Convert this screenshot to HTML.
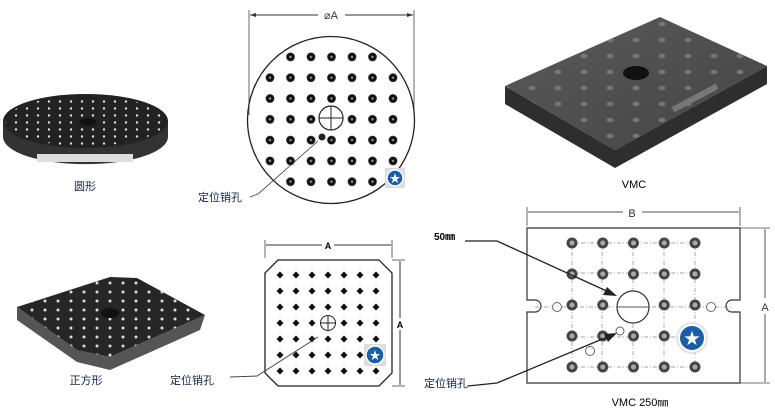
<!DOCTYPE html>
<html><head><meta charset="utf-8"><style>
html,body{margin:0;padding:0;background:#fff;width:775px;height:411px;overflow:hidden}
svg{display:block}
text{font-family:"Liberation Sans","Noto Sans CJK SC",sans-serif}
</style></head><body>
<svg width="775" height="411" viewBox="0 0 775 411" xmlns="http://www.w3.org/2000/svg">
<defs>
<pattern id="pc" x="259.75" y="46.5" width="20.5" height="20.8" patternUnits="userSpaceOnUse">
<circle cx="10.25" cy="10.4" r="4.3" fill="#111"/><circle cx="10.25" cy="10.4" r="1.2" fill="#999"/></pattern>
<pattern id="pd" x="272" y="267" width="16" height="16" patternUnits="userSpaceOnUse">
<path d="M8 4.5 L11.5 8 L8 11.5 L4.5 8Z" fill="#111"/></pattern>
<pattern id="pv" x="556.6" y="227.5" width="30.75" height="31" patternUnits="userSpaceOnUse">
<circle cx="15.4" cy="15.5" r="5.5" fill="#444"/><circle cx="15.4" cy="15.5" r="2.5" fill="#aaa"/></pattern>
<pattern id="pw" x="0" y="0" width="11" height="7" patternUnits="userSpaceOnUse">
<circle cx="5" cy="3.5" r="1.2" fill="#ddd"/></pattern>
<pattern id="pw2" x="0" y="0" width="13" height="9" patternUnits="userSpaceOnUse">
<circle cx="6" cy="4" r="1.5" fill="#ddd"/></pattern>
<pattern id="pw3" x="0" y="0" width="26" height="16" patternUnits="userSpaceOnUse">
<ellipse cx="12" cy="8" rx="3.5" ry="2.2" fill="#777"/></pattern>
<clipPath id="cc"><circle cx="331" cy="120" r="80"/></clipPath>
<clipPath id="cr"><rect x="262" y="48" width="142" height="142"/></clipPath>
<linearGradient id="gv" x1="0" y1="0" x2="1" y2="1"><stop offset="0" stop-color="#5a5a5a"/><stop offset="1" stop-color="#444"/></linearGradient>
</defs>

<!-- round 3D -->
<path d="M3 121 L3 137 A82 27 0 0 0 168 137 L168 121Z" fill="#333"/>
<ellipse cx="85.5" cy="121" rx="82.5" ry="27" fill="#222"/>
<ellipse cx="85.5" cy="121" rx="80" ry="25" fill="url(#pw)"/>
<ellipse cx="88" cy="122" rx="8" ry="4" fill="#111"/>
<rect x="37" y="154" width="96" height="8" fill="#ddd"/>
<text x="85" y="190" font-size="11" text-anchor="middle" fill="#124">圆形</text>

<!-- circle drawing -->
<line x1="249" y1="10" x2="249" y2="115" stroke="#444" stroke-width="0.8"/>
<line x1="414" y1="10" x2="414" y2="115" stroke="#444" stroke-width="0.8"/>
<line x1="250" y1="15" x2="318" y2="15" stroke="#333"/>
<line x1="345" y1="15" x2="413" y2="15" stroke="#333"/>
<path d="M250 15 l6 -2 v4z M413 15 l-6 -2 v4z" fill="#333"/>
<text x="331" y="19" font-size="11" text-anchor="middle" fill="#333">⌀A</text>
<circle cx="331" cy="120" r="83.5" fill="none" stroke="#222" stroke-width="1.3"/>
<g clip-path="url(#cr)"><rect x="248" y="36" width="168" height="168" fill="url(#pc)" clip-path="url(#cc)"/></g>
<circle cx="331" cy="118" r="12" fill="#fff" stroke="#222" stroke-width="1.2"/>
<path d="M319 118 H343 M331 106 V130" stroke="#222"/>
<circle cx="322" cy="137" r="3.5" fill="#222"/>
<polyline points="318,141 258,194 250,197" fill="none" stroke="#333" stroke-width="0.8"/>
<text x="198" y="201" font-size="11" fill="#124">定位销孔</text>
<rect x="385" y="168" width="20" height="20" fill="#ddd"/>
<circle cx="395" cy="178" r="8" fill="#1a5ea8" stroke="#fff" stroke-width="1.5"/>
<text x="395" y="182" font-size="11" text-anchor="middle" fill="#fff">★</text>

<!-- VMC 3D -->
<polygon points="505,86 505,104 615,168 767,84 767,66 615,150" fill="#2e2e2e"/>
<polygon points="505,86 660,17 767,66 615,150" fill="url(#gv)"/>
<polygon points="505,86 660,17 767,66 615,150" fill="url(#pw3)"/>
<ellipse cx="636" cy="73" rx="13" ry="7" fill="#111"/>
<rect x="670" y="95" width="50" height="6" fill="#777" transform="rotate(-28 695 98)"/>
<text x="634" y="188" font-size="11" text-anchor="middle" font-family="Liberation Serif">VMC</text>

<!-- square 3D -->
<polygon points="17,307 17,320 77,362 110,370 200,330 205,315 110,357 77,350" fill="#555"/>
<polygon points="17,307 110,277 137,278 205,315 110,357 77,350" fill="#262626"/>
<polygon points="17,307 110,277 137,278 205,315 110,357 77,350" fill="url(#pw2)"/>
<ellipse cx="110" cy="313" rx="9" ry="5" fill="#111"/>
<text x="86" y="384" font-size="11" text-anchor="middle" fill="#124">正方形</text>

<!-- square drawing -->
<line x1="265" y1="240" x2="265" y2="258" stroke="#444" stroke-width="0.8"/>
<line x1="392" y1="240" x2="392" y2="258" stroke="#444" stroke-width="0.8"/>
<line x1="266" y1="245" x2="322" y2="245" stroke="#333"/><line x1="334" y1="245" x2="391" y2="245" stroke="#333"/>
<text x="328" y="249" font-size="9" text-anchor="middle" font-weight="bold">A</text>
<line x1="392" y1="260" x2="405" y2="260" stroke="#444" stroke-width="0.8"/>
<line x1="392" y1="386" x2="405" y2="386" stroke="#444" stroke-width="0.8"/>
<line x1="400" y1="261" x2="400" y2="318" stroke="#333"/><line x1="400" y1="330" x2="400" y2="385" stroke="#333"/>
<text x="400" y="328" font-size="9" text-anchor="middle" font-weight="bold">A</text>
<polygon points="278,260 379,260 392,273 392,373 379,386 278,386 265,373 265,273" fill="#fff" stroke="#222" stroke-width="1.3"/>
<rect x="272" y="267" width="112" height="112" fill="url(#pd)"/>
<circle cx="328" cy="323" r="7.5" fill="#fff" stroke="#222"/>
<path d="M320 323 H336 M328 315 V331" stroke="#222"/>
<polyline points="318,337 257,376 230,377" fill="none" stroke="#444" stroke-width="1"/>
<text x="170" y="384" font-size="11" fill="#124">定位销孔</text>
<rect x="364" y="344" width="22" height="22" fill="#ddd"/>
<circle cx="375" cy="355" r="9" fill="#1a5ea8" stroke="#fff" stroke-width="1.5"/>
<text x="375" y="359" font-size="11" text-anchor="middle" fill="#fff">★</text>

<!-- VMC drawing -->
<line x1="527" y1="207" x2="527" y2="226" stroke="#444" stroke-width="0.8"/>
<line x1="740" y1="207" x2="740" y2="226" stroke="#444" stroke-width="0.8"/>
<line x1="528" y1="212" x2="623" y2="212" stroke="#555"/><line x1="642" y1="212" x2="739" y2="212" stroke="#555"/>
<text x="632" y="217" font-size="11" text-anchor="middle" fill="#333">B</text>
<line x1="740" y1="228" x2="770" y2="228" stroke="#444" stroke-width="0.8"/>
<line x1="740" y1="383" x2="770" y2="383" stroke="#444" stroke-width="0.8"/>
<line x1="765" y1="229" x2="765" y2="298" stroke="#555"/><line x1="765" y1="314" x2="765" y2="382" stroke="#555"/>
<text x="765" y="311" font-size="11" text-anchor="middle" fill="#333">A</text>
<path d="M527 228 H740 V300 H732 A6 6 0 0 0 732 312 H740 V383 H527 V312 H535 A6 6 0 0 0 535 300 H527Z" fill="#fff" stroke="#333" stroke-width="1.2"/>
<g stroke="#888" stroke-width="0.7" stroke-dasharray="4 2 1 2">
<path d="M572 243 H695 M572 273 H695 M535 307 H732 M572 337 H695 M572 367 H695"/>
<path d="M572 243 V367 M602 243 V367 M633 243 V367 M664 243 V367 M695 243 V367"/>
</g>
<rect x="556" y="227" width="155" height="155" fill="url(#pv)"/>
<circle cx="557" cy="307" r="4.5" fill="#fff" stroke="#666"/>
<circle cx="711" cy="307" r="4.5" fill="#fff" stroke="#666"/>
<circle cx="590" cy="351" r="4.5" fill="#fff" stroke="#666"/>
<circle cx="620" cy="331" r="4" fill="#fff" stroke="#666"/>
<circle cx="633" cy="307" r="16" fill="#fff" stroke="#333" stroke-width="1.2"/>
<path d="M617 307 H649" stroke="#555"/>
<polyline points="465,241 497,241 611,293" fill="none" stroke="#222" stroke-width="1.3"/>
<path d="M617 296 L603 295 L607 287Z" fill="#222"/>
<polyline points="468,386 497,383 612,335" fill="none" stroke="#222" stroke-width="1.3"/>
<path d="M617 333 L608 342 L604 334Z" fill="#222"/>
<text x="434" y="240" font-size="10" font-family="Liberation Serif" font-weight="bold">50㎜</text>
<text x="424" y="387" font-size="11" fill="#124">定位销孔</text>
<text x="640" y="406" font-size="11" text-anchor="middle" font-family="Liberation Serif">VMC 250㎜</text>
<circle cx="692" cy="338" r="16" fill="#ddd" opacity="0.8"/>
<circle cx="692" cy="338" r="13" fill="#1a5ea8" stroke="#fff" stroke-width="2"/>
<text x="692" y="344" font-size="16" text-anchor="middle" fill="#fff">★</text>
</svg>
</body></html>
